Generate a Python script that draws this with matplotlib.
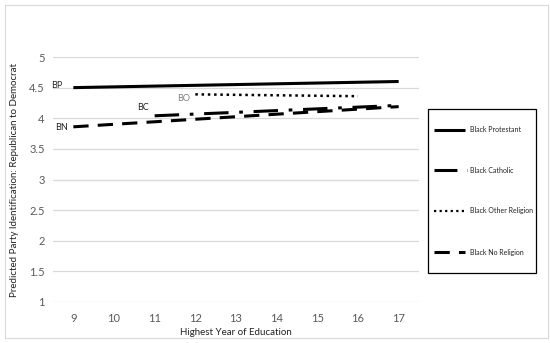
import matplotlib
matplotlib.use("Agg")
import matplotlib.pyplot as plt
from matplotlib.lines import Line2D
from matplotlib.patches import Rectangle

# Data
years = [9, 10, 11, 12, 13, 14, 15, 16, 17]
bp_x = [9, 17];  bp_y = [4.50, 4.60]
bc_x = [11, 17]; bc_y = [4.04, 4.21]
bo_x = [12, 16]; bo_y = [4.39, 4.36]
bn_x = [9, 17];  bn_y = [3.86, 4.19]
series_names = ["Black Protestant", "Black Catholic", "Black Other Religion", "Black No Religion"]
short_labels = ["BP", "BC", "BO", "BN"]
yticks = [1, 1.5, 2, 2.5, 3, 3.5, 4, 4.5, 5]

plt.rcParams['font.family'] = ['Lato', 'DejaVu Sans']

W, H = 550, 343
fig = plt.figure(figsize=(W / 100, H / 100), dpi=100)
fig.patch.set_facecolor('white')

# outer border
fig.add_artist(Rectangle((5 / W, 5 / H), 543 / W, 333 / H, transform=fig.transFigure,
                         fill=False, edgecolor='#d9d9d9', lw=0.8))

ax = fig.add_axes([53 / W, 1 - 302 / H, (419 - 53) / W, (302 - 57) / H])
ax.set_xlim(8.5, 17.5)
ax.set_ylim(1, 5)
for s in ax.spines.values():
    s.set_visible(False)
ax.set_yticks(yticks)
ax.set_yticklabels([f"{v:g}" for v in yticks])
ax.set_xticks(years)
ax.yaxis.grid(True, color='#d9d9d9', lw=0.9)
ax.set_axisbelow(True)
ax.tick_params(length=0, labelsize=8, colors='#595959', pad=6)
ax.tick_params(axis='x', pad=8)

lw = 2.2
styles = {
    'BP': dict(ls='-'),
    'BC': dict(ls=(0, (8, 3.5, 1.2, 3.5))),
    'BO': dict(ls=(0, (1, 1.5))),
    'BN': dict(ls=(0, (5, 3))),
}
data = {'BP': (bp_x, bp_y), 'BC': (bc_x, bc_y), 'BO': (bo_x, bo_y), 'BN': (bn_x, bn_y)}
for key in ['BN', 'BC', 'BO', 'BP']:
    x, y = data[key]
    ax.plot(x, y, color='black', lw=lw if key != 'BO' else 1.8,
            solid_capstyle='butt', dash_capstyle='butt', **styles[key])

ax.annotate('BP', (bp_x[0], bp_y[0]), xytext=(-8, 1.5), textcoords='offset points',
            ha='right', va='center', fontsize=6.5, color='#222222')
ax.annotate('BN', (bn_x[0], bn_y[0]), xytext=(-4, -0.5), textcoords='offset points',
            ha='right', va='center', fontsize=6.5, color='#222222')
ax.annotate('BC', (bc_x[0], bc_y[0]), xytext=(-4, 6), textcoords='offset points',
            ha='right', va='center', fontsize=6.5, color='#222222')
ax.annotate('BO', (bo_x[0], bo_y[0]), xytext=(-4, -3), textcoords='offset points',
            ha='right', va='center', fontsize=6.5, color='#7f7f7f')

ax.set_xlabel('Highest Year of Education', fontsize=7, color='#222222', labelpad=3)
fig.text(15 / W, 1 - 180 / H, 'Predicted Party Identification: Republican to Democrat',
         rotation=90, ha='center', va='center', fontsize=7, color='#222222')

# legend box
fig.add_artist(Rectangle((428 / W, 1 - 273 / H), 108 / W, 164 / H, transform=fig.transFigure,
                         fill=False, edgecolor='black', lw=0.9))
leg_y = [130, 170, 211, 252]
for key, name, yy in zip(short_labels, series_names, leg_y):
    st = dict(styles[key])
    x1 = 465
    if key == 'BC':
        st = dict(ls=(0, (7.5, 3.2, 0.8, 5)))
        x1 = 467
    fig.add_artist(Line2D([434 / W, x1 / W], [1 - yy / H, 1 - yy / H], transform=fig.transFigure,
                          color='black', lw=lw if key != 'BO' else 1.6,
                          solid_capstyle='butt', dash_capstyle='butt', **st))
    fig.text(470 / W, 1 - yy / H, name, ha='left', va='center', fontsize=5.0, color='#222222')

fig.savefig('out.png', dpi=100)
